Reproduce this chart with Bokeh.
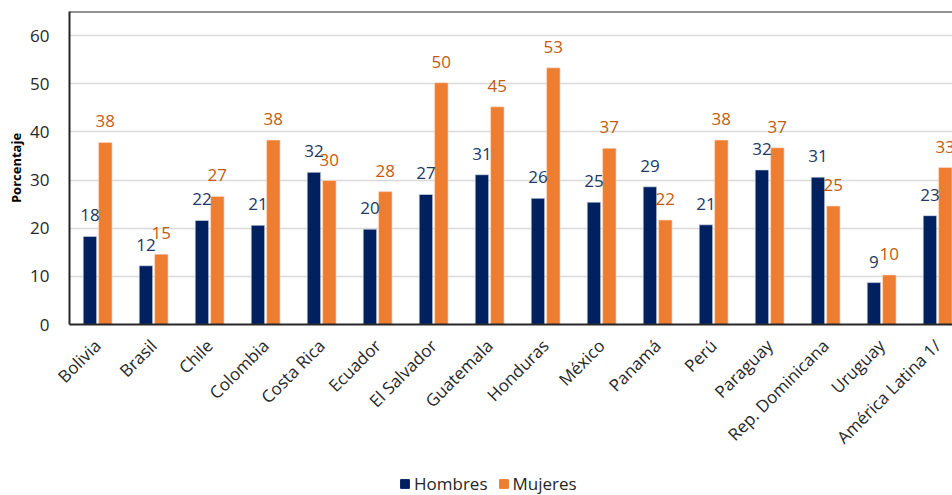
from math import pi

from bokeh.core.properties import value
from bokeh.embed import file_html
from bokeh.layouts import column
from bokeh.resources import INLINE
from bokeh.plotting import figure
from bokeh.models import (ColumnDataSource, Range1d, FixedTicker, Legend,
                          LegendItem, Span, LabelSet)

# Porcentaje por país y sexo
paises = ["Bolivia", "Brasil", "Chile", "Colombia", "Costa Rica", "Ecuador",
          "El Salvador", "Guatemala", "Honduras", "México", "Panamá", "Perú",
          "Paraguay", "Rep. Dominicana", "Uruguay", "América Latina 1/"]
hombres = [18.3, 12.2, 21.6, 20.6, 31.6, 19.8, 27.0, 31.1, 26.2, 25.4,
           28.6, 20.7, 32.1, 30.6, 8.7, 22.6]
mujeres = [37.8, 14.6, 26.6, 38.3, 29.9, 27.6, 50.2, 45.2, 53.3, 36.6,
           21.7, 38.3, 36.7, 24.6, 10.3, 32.6]
series = ["Hombres", "Mujeres"]
y_ticks = [0, 10, 20, 30, 40, 50, 60]

AZUL = "#002060"
NARANJA = "#ED7D31"
AZUL_TXT = "#203864"
NARANJA_TXT = "#C55A11"
FONT = "Open Sans"

idx = list(range(len(paises)))
src_h = ColumnDataSource(dict(
    x=[i - 0.135 for i in idx], top=hombres,
    lbl=[f"{v:.0f}" for v in hombres]))
src_m = ColumnDataSource(dict(
    x=[i + 0.14 for i in idx], top=mujeres,
    lbl=[f"{v:.0f}" for v in mujeres]))

W = 952
H_MAIN, H_LEG = 460, 35
LEFT, TOP = 69, 11
FRAME_H = 313
CAT_PX = 56  # ancho de cada categoría en píxeles
x_end = -0.5 + (W - LEFT) / CAT_PX

p = figure(width=W, height=H_MAIN, output_backend="svg",
           toolbar_location=None,
           x_range=Range1d(-0.5, x_end), y_range=Range1d(0, 65),
           min_border_left=LEFT, min_border_top=TOP, min_border_right=0,
           min_border_bottom=H_MAIN - TOP - FRAME_H)
p.outline_line_color = None
p.background_fill_color = "white"
p.border_fill_color = "white"

bar_h = p.vbar(x="x", top="top", width=0.24, source=src_h, fill_color=AZUL,
               line_color="#dfe3ec", line_width=0.6)
bar_m = p.vbar(x="x", top="top", width=0.24, source=src_m,
               fill_color=NARANJA, line_color="#fbe0cc", line_width=0.6)

for src, col in ((src_h, AZUL_TXT), (src_m, NARANJA_TXT)):
    p.add_layout(LabelSet(x="x", y="top", text="lbl", source=src,
                          y_offset=21, text_align="center",
                          text_baseline="middle", text_color=col,
                          text_font=value(FONT), text_font_size="17px"))

# línea superior del área de gráfico
p.add_layout(Span(location=65, dimension="width", line_color="#262626",
                  line_width=2))

# eje Y
ya = p.yaxis[0]
ya.ticker = FixedTicker(ticks=y_ticks)
ya.axis_label = "Porcentaje"
ya.axis_label_text_font = FONT
ya.axis_label_text_font_style = "bold"
ya.axis_label_text_font_size = "13px"
ya.axis_label_text_color = "black"
ya.axis_label_standoff = 2
ya.major_label_text_font = FONT
ya.major_label_text_font_size = "17px"
ya.major_label_text_color = "#262626"
ya.major_label_standoff = 14
ya.major_tick_line_color = None
ya.minor_tick_line_color = None
ya.axis_line_color = "#262626"
ya.axis_line_width = 2

# eje X con los nombres de país
xa = p.xaxis[0]
xa.ticker = FixedTicker(ticks=idx)
xa.major_label_overrides = {i: n for i, n in enumerate(paises)}
xa.major_label_orientation = pi / 4
xa.major_label_text_font = FONT
xa.major_label_text_font_size = "17px"
xa.major_label_text_color = "#262626"
xa.major_label_standoff = 12
xa.major_tick_line_color = None
xa.minor_tick_line_color = None
xa.axis_line_color = "#262626"
xa.axis_line_width = 2

p.xgrid.grid_line_color = None
p.ygrid.ticker = FixedTicker(ticks=y_ticks[1:])
p.ygrid.grid_line_color = "#d9d9d9"
p.ygrid.grid_line_width = 1.5

# franja inferior con la leyenda (muestras fuera del rango visible)
leg = figure(width=W, height=H_LEG, output_backend="svg",
             toolbar_location=None, x_range=Range1d(0, 1),
             y_range=Range1d(0, 1), min_border=0, min_border_left=LEFT,
             x_axis_location=None, y_axis_location=None)
leg.grid.visible = False
leg.outline_line_color = None
leg.border_fill_color = "white"
sw_h = leg.vbar(x=[0.5], bottom=[-6], top=[-5], width=0.1,
                fill_color=AZUL, line_color=AZUL)
sw_m = leg.vbar(x=[0.5], bottom=[-6], top=[-5], width=0.1,
                fill_color=NARANJA, line_color=NARANJA)
legend = Legend(items=[LegendItem(label=series[0], renderers=[sw_h]),
                       LegendItem(label=series[1], renderers=[sw_m])],
                orientation="horizontal", location=(399 - LEFT, 0),
                label_text_font=FONT, label_text_font_size="17px",
                label_text_color="#262626", glyph_width=11, glyph_height=11,
                spacing=10, label_standoff=4, padding=4, margin=0,
                border_line_color=None, background_fill_alpha=0)
leg.add_layout(legend)

layout = column(p, leg, spacing=0)
open("out.html", "w").write(file_html(layout, INLINE))
